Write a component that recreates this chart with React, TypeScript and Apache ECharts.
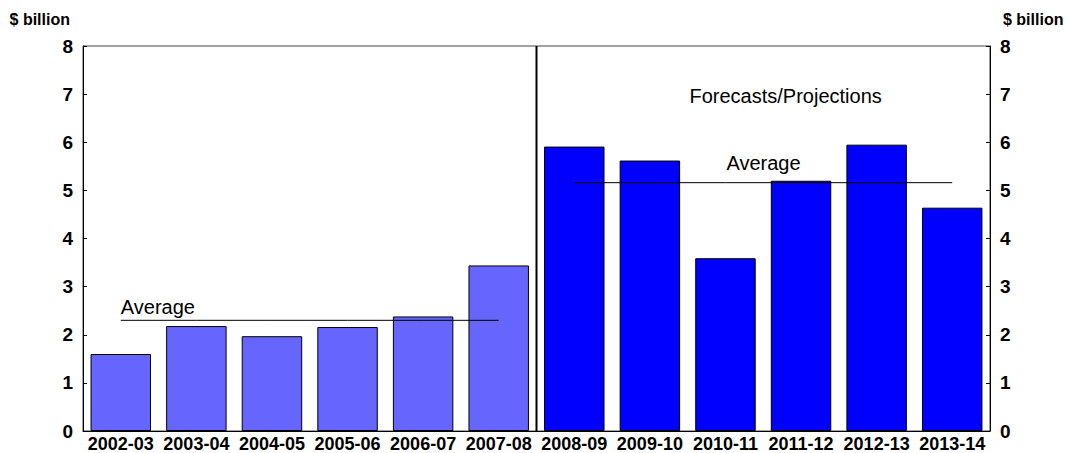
import React, { useEffect, useRef } from "react";
import * as echarts from "echarts";

const categories = [
  "2002-03", "2003-04", "2004-05", "2005-06", "2006-07", "2007-08",
  "2008-09", "2009-10", "2010-11", "2011-12", "2012-13", "2013-14",
];
const historyValues = [1.6, 2.18, 1.97, 2.16, 2.38, 3.44];
const forecastValues = [5.91, 5.62, 3.59, 5.2, 5.95, 4.64];
const historyAverage = 2.3;
const forecastAverage = 5.16;
const yTicks = [0, 1, 2, 3, 4, 5, 6, 7, 8];

const FONT = "'Liberation Sans', Arial, sans-serif";

export default function App() {
  const ref = useRef<HTMLDivElement>(null);
  useEffect(() => {
    document.body.style.margin = "0";
    if (!ref.current) return;
    const chart = echarts.init(ref.current, null, { renderer: "svg" });
    const nh = historyValues.length;
    const barData = categories.map((_, i) =>
      i < nh
        ? { value: historyValues[i], itemStyle: { color: "#6666FF" } }
        : { value: forecastValues[i - nh], itemStyle: { color: "#0000FF" } }
    );
    const histAvgData = categories.map((_, i) => (i < nh ? historyAverage : null));
    const foreAvgData = categories.map((_, i) => (i >= nh ? forecastAverage : null));
    const yMin = yTicks[0];
    const yMax = yTicks[yTicks.length - 1];
    const yAxisCommon = {
      type: "value",
      min: yMin,
      max: yMax,
      interval: 1,
      axisLine: { show: true, lineStyle: { color: "#000", width: 1 } },
      axisTick: { show: true, inside: true, length: 4, lineStyle: { color: "#000" } },
      splitLine: { show: false },
      axisLabel: {
        color: "#000",
        fontFamily: FONT,
        fontWeight: "bold",
        fontSize: 19,
        margin: 10,
      },
      name: "$ billion",
      nameLocation: "end",
      nameGap: 19,
    };
    const nameStyle = {
      color: "#000",
      fontFamily: FONT,
      fontWeight: "bold",
      fontSize: 16,
    };
    chart.setOption({
      animation: false,
      backgroundColor: "#fff",
      grid: {
        left: 83,
        right: 77,
        top: 46,
        bottom: 21,
        show: true,
        borderColor: "#444",
        borderWidth: 1,
        containLabel: false,
      },
      xAxis: {
        type: "category",
        data: categories,
        axisLine: { show: true, lineStyle: { color: "#000", width: 1 } },
        axisTick: { show: false },
        splitLine: { show: false },
        axisLabel: {
          color: "#000",
          fontFamily: FONT,
          fontWeight: "bold",
          fontSize: 18,
          margin: 4,
          interval: 0,
        },
      },
      yAxis: [
        {
          ...yAxisCommon,
          position: "left",
          nameTextStyle: { ...nameStyle, align: "right", padding: [0, 13, 0, 0] },
        },
        {
          ...yAxisCommon,
          position: "right",
          nameTextStyle: { ...nameStyle, align: "left", padding: [0, 0, 0, 13] },
        },
      ],
      series: [
        {
          type: "bar",
          data: barData,
          barCategoryGap: "20%",
          itemStyle: { borderColor: "#000", borderWidth: 1 },
          markPoint: {
            symbol: "rect",
            symbolSize: 0,
            label: {
              show: true,
              color: "#000",
              fontFamily: FONT,
              fontSize: 20,
            },
            data: [
              {
                coord: [0, historyAverage],
                value: "Average",
                label: { formatter: "Average", position: "top", align: "left", distance: 3, offset: [0, 0] },
              },
              {
                coord: [8, forecastAverage],
                value: "Average",
                label: { formatter: "Average", position: "top", align: "left", distance: 10, offset: [1, 0] },
              },
              {
                coord: [8, 7],
                value: "Forecasts/Projections",
                label: { formatter: "Forecasts/Projections", position: "inside", align: "left", offset: [-36, 2] },
              },
            ],
          },
        },
        {
          type: "line",
          data: histAvgData,
          symbol: "none",
          lineStyle: { color: "#000", width: 1 },
          connectNulls: false,
        },
        {
          type: "line",
          data: foreAvgData,
          symbol: "none",
          lineStyle: { color: "#000", width: 1 },
          connectNulls: false,
        },
        {
          type: "custom",
          data: [[nh]],
          silent: true,
          z: 5,
          renderItem: (params: any, api: any) => {
            const idx = api.value(0);
            const bandW = api.size([1, 0])[0];
            const bottom = api.coord([idx, yMin]);
            const top = api.coord([idx, yMax]);
            const x = bottom[0] - bandW / 2;
            return {
              type: "line",
              shape: { x1: x, y1: bottom[1], x2: x, y2: top[1] },
              style: { stroke: "#000", lineWidth: 2 },
            };
          },
        },
      ],
    });
    return () => chart.dispose();
  }, []);
  return <div ref={ref} style={{ width: 1067, height: 453 }} />;
}
